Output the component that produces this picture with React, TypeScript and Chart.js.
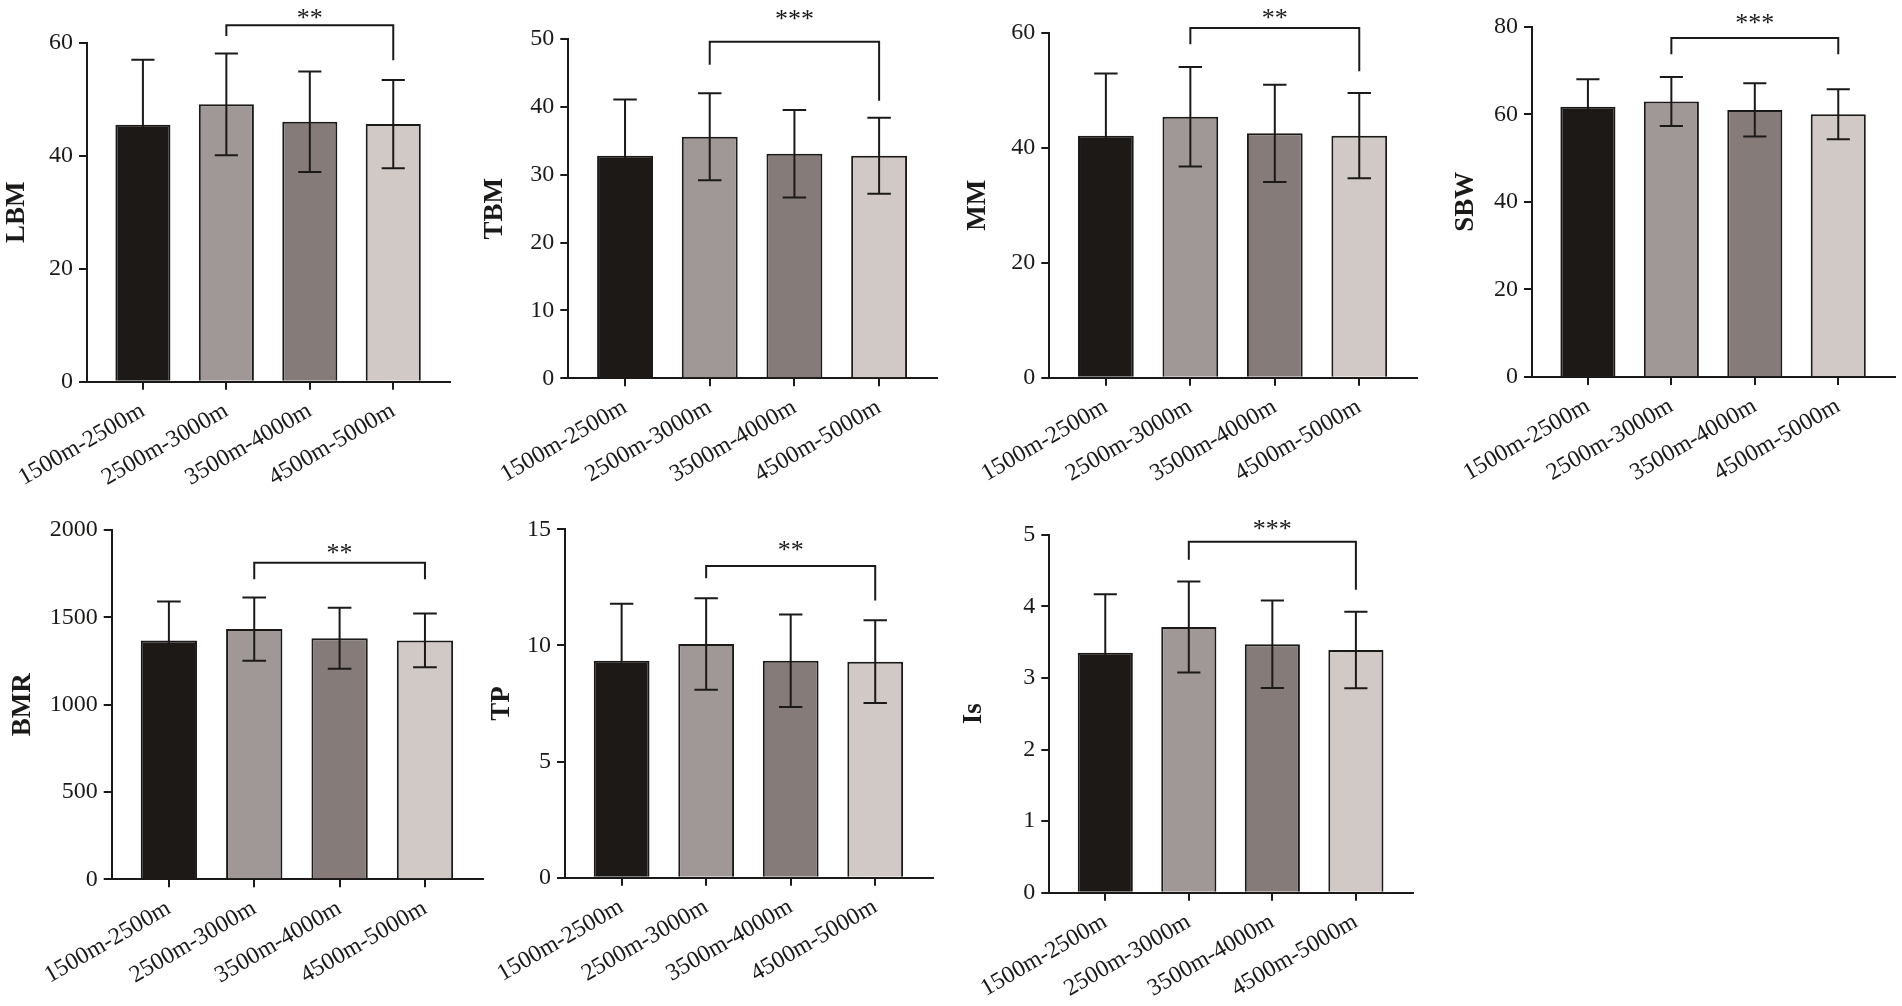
import React, { useEffect, useRef } from 'react';
import { Chart, registerables } from 'chart.js';

Chart.register(...registerables);

// ---------- data ----------
const categories = ['1500m-2500m', '2500m-3000m', '3500m-4000m', '4500m-5000m'];
const barColors = ['#1c1916', '#a09896', '#857c7a', '#d1c9c6'];

const lbmMean = [45.5, 49.1, 46.0, 45.6];
const lbmSd = [11.5, 9.0, 8.9, 7.8];
const lbmTicks = [0, 20, 40, 60];
const lbmBracket = [63.1, 61.2, 56.9];

const tbmMean = [32.8, 35.6, 33.1, 32.8];
const tbmSd = [8.3, 6.4, 6.45, 5.6];
const tbmTicks = [0, 10, 20, 30, 40, 50];
const tbmBracket = [49.6, 46.2, 40.9];

const mmMean = [42.1, 45.4, 42.5, 42.1];
const mmSd = [10.8, 8.65, 8.45, 7.4];
const mmTicks = [0, 20, 40, 60];
const mmBracket = [60.8, 58.0, 53.3];

const sbwMean = [61.7, 62.9, 61.0, 60.0];
const sbwSd = [6.3, 5.6, 6.1, 5.7];
const sbwTicks = [0, 20, 40, 60, 80];
const sbwBracket = [77.4, 73.7, 73.7];

const bmrMean = [1368, 1433, 1380, 1368];
const bmrSd = [222, 181, 175, 154];
const bmrTicks = [0, 500, 1000, 1500, 2000];
const bmrBracket = [1813, 1718, 1718];

const tpMean = [9.34, 10.06, 9.34, 9.3];
const tpSd = [2.46, 1.97, 1.99, 1.78];
const tpTicks = [0, 5, 10, 15];
const tpBracket = [13.42, 12.89, 11.93];

const isMean = [3.35, 3.71, 3.47, 3.39];
const isSd = [0.82, 0.635, 0.61, 0.535];
const isTicks = [0, 1, 2, 3, 4, 5];
const isBracket = [4.9, 4.65, 4.23];

const sigLabels = ['**', '***', '**', '***', '**', '**', '***'];
const titles = ['LBM', 'TBM', 'MM', 'SBW', 'BMR', 'TP', 'Is'];

// ---------- layout / style ----------
const FONT = "'Liberation Serif', 'Times New Roman', serif";
const INK = '#1c1a18';
const X_MIN = -0.67;
const X_MAX = 3.68;

type Layout = {
  ax: number; right: number; top: number; bottom: number;
  rowTop: number; rowH: number; titleX: number; starGap: number;
};

const layouts: Layout[] = [
  { ax: 87, right: 450, top: 42.7, bottom: 381.7, rowTop: 0, rowH: 500, titleX: 17, starGap: 11.7 },
  { ax: 568.3, right: 936.7, top: 39, bottom: 378.3, rowTop: 0, rowH: 500, titleX: 495.3, starGap: 26.7 },
  { ax: 1049.3, right: 1416.7, top: 32.7, bottom: 377.7, rowTop: 0, rowH: 500, titleX: 978, starGap: 15 },
  { ax: 1532, right: 1895, top: 26.7, bottom: 377, rowTop: 0, rowH: 500, titleX: 1466, starGap: 19.7 },
  { ax: 111.7, right: 483, top: 530, bottom: 879.3, rowTop: 500, rowH: 506, titleX: 23, starGap: 14.4 },
  { ax: 565, right: 932.7, top: 529.3, bottom: 877.7, rowTop: 500, rowH: 506, titleX: 502.5, starGap: 20 },
  { ax: 1049.3, right: 1412.7, top: 534.7, bottom: 892.7, rowTop: 500, rowH: 506, titleX: 974.5, starGap: 17 },
];

type PanelData = {
  title: string; mean: number[]; sd: number[]; ticks: number[]; bracket: number[]; sig: string;
};

const panels: PanelData[] = [
  { title: titles[0], mean: lbmMean, sd: lbmSd, ticks: lbmTicks, bracket: lbmBracket, sig: sigLabels[0] },
  { title: titles[1], mean: tbmMean, sd: tbmSd, ticks: tbmTicks, bracket: tbmBracket, sig: sigLabels[1] },
  { title: titles[2], mean: mmMean, sd: mmSd, ticks: mmTicks, bracket: mmBracket, sig: sigLabels[2] },
  { title: titles[3], mean: sbwMean, sd: sbwSd, ticks: sbwTicks, bracket: sbwBracket, sig: sigLabels[3] },
  { title: titles[4], mean: bmrMean, sd: bmrSd, ticks: bmrTicks, bracket: bmrBracket, sig: sigLabels[4] },
  { title: titles[5], mean: tpMean, sd: tpSd, ticks: tpTicks, bracket: tpBracket, sig: sigLabels[5] },
  { title: titles[6], mean: isMean, sd: isSd, ticks: isTicks, bracket: isBracket, sig: sigLabels[6] },
];

function Panel({ p, L }: { p: PanelData; L: Layout }) {
  const ref = useRef<HTMLCanvasElement | null>(null);
  const left = Math.round(L.ax - 110);
  const width = Math.round(L.right + 6 - left);
  const height = L.rowH;

  useEffect(() => {
    const canvas = ref.current;
    if (!canvas) return;
    const yW = L.ax - left;
    const padTop = L.top - L.rowTop;
    const xH = L.rowTop + L.rowH - L.bottom;
    const padRight = left + width - L.right;
    const titleSize = 27;
    const titlePad = L.titleX - left - (titleSize * 1.2) / 2;

    const annot = {
      id: 'annot',
      afterDraw(chart: any) {
        const ctx = chart.ctx as CanvasRenderingContext2D;
        const xs = chart.scales.x;
        const ys = chart.scales.y;
        const meta = chart.getDatasetMeta(0);
        ctx.save();
        ctx.strokeStyle = INK;
        ctx.lineWidth = 2;
        ctx.lineCap = 'butt';
        // error bars (mean ± SD)
        p.mean.forEach((m, i) => {
          const bar: any = meta.data[i];
          const cx = bar.x;
          const half = bar.width * 0.21;
          const yT = ys.getPixelForValue(m + p.sd[i]);
          const yB = ys.getPixelForValue(m - p.sd[i]);
          ctx.beginPath();
          ctx.moveTo(cx, yT);
          ctx.lineTo(cx, yB);
          ctx.moveTo(cx - half, yT);
          ctx.lineTo(cx + half, yT);
          ctx.moveTo(cx - half, yB);
          ctx.lineTo(cx + half, yB);
          ctx.stroke();
        });
        // significance bracket (group 2 vs group 4)
        const x1 = xs.getPixelForValue(1);
        const x2 = xs.getPixelForValue(3);
        const yTop = ys.getPixelForValue(p.bracket[0]);
        const yL = ys.getPixelForValue(p.bracket[1]);
        const yR = ys.getPixelForValue(p.bracket[2]);
        ctx.lineJoin = 'miter';
        ctx.beginPath();
        ctx.moveTo(x1, yL);
        ctx.lineTo(x1, yTop);
        ctx.lineTo(x2, yTop);
        ctx.lineTo(x2, yR);
        ctx.stroke();
        const starSize = 26;
        ctx.fillStyle = INK;
        ctx.font = `${starSize}px ${FONT}`;
        ctx.textAlign = 'center';
        ctx.textBaseline = 'alphabetic';
        ctx.fillText(p.sig, (x1 + x2) / 2, yTop - L.starGap + starSize * 0.48);
        ctx.restore();
      },
    };

    const chart = new Chart(canvas, {
      type: 'bar',
      data: {
        datasets: [
          {
            data: p.mean.map((v, i) => ({ x: i, y: v })) as any,
            backgroundColor: barColors,
            borderColor: INK,
            borderWidth: 2,
            barPercentage: 0.66,
            categoryPercentage: 1,
          },
        ],
      },
      options: {
        responsive: false,
        animation: false,
        layout: { padding: { top: padTop, right: padRight, bottom: 0, left: 0 } },
        plugins: { legend: { display: false }, tooltip: { enabled: false } },
        scales: {
          x: {
            type: 'linear',
            min: X_MIN,
            max: X_MAX,
            offset: false,
            z: 1,
            afterBuildTicks: (s: any) => {
              s.ticks = categories.map((_, i) => ({ value: i }));
            },
            afterFit: (s: any) => {
              s.height = xH;
            },
            grid: { offset: false, drawOnChartArea: false, drawTicks: true, tickLength: 8, color: INK, lineWidth: 2 },
            border: { display: true, color: INK, width: 2 },
            ticks: {
              autoSkip: false,
              minRotation: 30,
              maxRotation: 30,
              padding: 7,
              color: INK,
              font: { family: FONT, size: 24 },
              callback: (v: any) => categories[v as number] ?? '',
            },
          },
          y: {
            min: p.ticks[0],
            max: p.ticks[p.ticks.length - 1],
            z: 1,
            afterBuildTicks: (s: any) => {
              s.ticks = p.ticks.map((v) => ({ value: v }));
            },
            afterFit: (s: any) => {
              s.width = yW;
            },
            grid: { drawOnChartArea: false, drawTicks: true, tickLength: 8, color: INK, lineWidth: 2 },
            border: { display: true, color: INK, width: 2 },
            ticks: {
              padding: 6,
              color: INK,
              font: { family: FONT, size: 24 },
              callback: (v: any) => String(v),
            },
            title: {
              display: true,
              text: p.title,
              color: INK,
              font: { family: FONT, size: titleSize, weight: 'bold' },
              padding: { top: titlePad, bottom: 0 },
            },
          },
        },
      } as any,
      plugins: [annot],
    });
    return () => chart.destroy();
  }, []);

  return (
    <canvas
      ref={ref}
      width={width}
      height={height}
      style={{ position: 'absolute', left, top: L.rowTop, width, height }}
    />
  );
}

export default function App() {
  return (
    <div
      style={{
        position: 'absolute',
        left: 0,
        top: 0,
        width: 1902,
        height: 1006,
        background: '#ffffff',
        overflow: 'hidden',
      }}
    >
      {panels.map((p, i) => (
        <Panel key={p.title} p={p} L={layouts[i]} />
      ))}
    </div>
  );
}
